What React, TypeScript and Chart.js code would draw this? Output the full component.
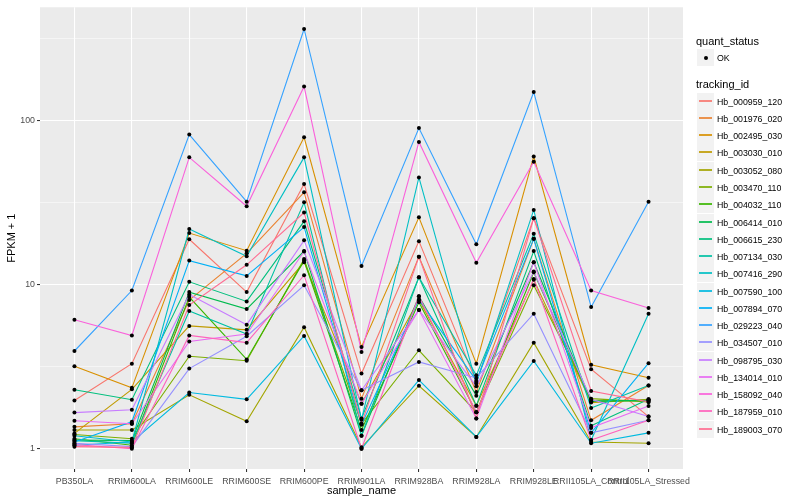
import React, { useEffect, useRef } from "react";
import { Chart, registerables } from "chart.js";

Chart.register(...registerables);

const categories = [
  "PB350LA", "RRIM600LA", "RRIM600LE", "RRIM600SE", "RRIM600PE", "RRIM901LA",
  "RRIM928BA", "RRIM928LA", "RRIM928LE", "RRII105LA_Control", "RRII105LA_Stressed",
];

const trackingIds = [
  "Hb_000959_120", "Hb_001976_020", "Hb_002495_030", "Hb_003030_010", "Hb_003052_080",
  "Hb_003470_110", "Hb_004032_110", "Hb_006414_010", "Hb_006615_230", "Hb_007134_030",
  "Hb_007416_290", "Hb_007590_100", "Hb_007894_070", "Hb_029223_040", "Hb_034507_010",
  "Hb_098795_030", "Hb_134014_010", "Hb_158092_040", "Hb_187959_010", "Hb_189003_070",
];

const seriesColors = [
  "#F8766D", "#EA8331", "#D89000", "#C09B00", "#A3A500", "#7CAE00", "#39B600", "#00BB4E",
  "#00BF7D", "#00C1A3", "#00BFC4", "#00BAE0", "#00B0F6", "#35A2FF", "#9590FF", "#C77CFF",
  "#E76BF3", "#FA62DB", "#FF62BC", "#FF6C91",
];

const hb000959_120 = [1.97, 3.3, 18.9, 9.0, 41, 2.87, 18.4, 2.55, 25.4, 3.05, 1.57];
const hb001976_020 = [1.36, 1.42, 8.05, 15.5, 36.5, 2.02, 14.8, 2.22, 19.0, 1.49, 2.43];
const hb002495_030 = [3.18, 2.35, 20.6, 16.1, 79, 4.17, 25.7, 3.3, 60.4, 3.25, 2.71];
const hb003030_010 = [1.24, 2.3, 5.6, 5.3, 13.7, 1.88, 8.1, 1.83, 10.7, 1.91, 2.0];
const hb003052_080 = [1.3, 1.3, 2.13, 1.47, 5.5, 1.02, 2.42, 1.18, 4.43, 1.1, 1.08];
const hb003470_110 = [1.22, 1.15, 3.66, 3.44, 14.3, 1.42, 3.98, 1.67, 9.9, 2.02, 1.93];
const hb004032_110 = [1.15, 1.05, 8.4, 3.5, 14.0, 1.3, 7.8, 1.67, 11.9, 1.95, 1.97];
const hb006414_010 = [1.13, 1.12, 9.0, 7.1, 16.0, 1.2, 8.5, 2.1, 13.7, 1.95, 1.97];
const hb006615_230 = [2.29, 1.99, 10.4, 7.9, 24.3, 1.53, 11.1, 1.83, 16.0, 1.38, 2.0];
const hb007134_030 = [1.12, 1.08, 6.9, 5.0, 31.7, 1.2, 11.1, 2.8, 20.4, 1.77, 2.43];
const hb007416_290 = [1.2, 1.1, 21.8, 14.9, 59.6, 1.5, 45, 2.5, 28.5, 1.13, 6.65];
const hb007590_100 = [1.05, 1.1, 2.2, 2.0, 4.87, 1.0, 2.62, 1.18, 3.43, 1.08, 1.25];
const hb007894_070 = [1.1, 1.46, 14.0, 11.3, 22.4, 1.4, 8.1, 2.6, 19.0, 1.25, 3.32];
const hb029223_040 = [3.94, 9.2, 82, 32, 361, 13, 90, 17.6, 149, 7.3, 32];
const hb034507_010 = [1.08, 1.03, 3.08, 4.85, 9.9, 2.27, 3.38, 2.7, 6.65, 1.25, 1.49];
const hb098795_030 = [1.66, 1.73, 8.7, 5.7, 18.6, 2.27, 7.0, 2.4, 12.0, 2.0, 1.57];
const hb134014_010 = [1.48, 1.42, 4.5, 5.0, 15.9, 1.88, 7.0, 1.53, 13.7, 1.34, 1.82];
const hb158092_040 = [6.1, 4.9, 59.6, 30, 161, 3.89, 74, 13.6, 56, 9.2, 7.2];
const hb187959_010 = [1.06, 1.0, 4.9, 4.43, 11.4, 1.0, 8.5, 1.67, 10.8, 1.13, 1.49];
const hb189003_070 = [1.03, 1.02, 7.5, 13.2, 27.5, 1.42, 14.8, 1.53, 25.4, 2.25, 1.93];

const seriesValues = [
  hb000959_120, hb001976_020, hb002495_030, hb003030_010, hb003052_080,
  hb003470_110, hb004032_110, hb006414_010, hb006615_230, hb007134_030,
  hb007416_290, hb007590_100, hb007894_070, hb029223_040, hb034507_010,
  hb098795_030, hb134014_010, hb158092_040, hb187959_010, hb189003_070,
];

const yMajorTicks = [1, 10, 100];
const yMinorTicks = [3.1623, 31.623, 316.23];

const FONT = "'Liberation Sans', Arial, Helvetica, sans-serif";

const panelBg = {
  id: "panelBg",
  beforeDraw(chart: any) {
    const { ctx, chartArea } = chart;
    ctx.save();
    ctx.fillStyle = "#EBEBEB";
    ctx.fillRect(chartArea.left, chartArea.top, chartArea.right - chartArea.left, chartArea.bottom - chartArea.top);
    ctx.restore();
  },
};

const pointsOnTop = {
  id: "pointsOnTop",
  afterDatasetsDraw(chart: any) {
    const { ctx } = chart;
    ctx.save();
    ctx.fillStyle = "#000000";
    chart.data.datasets.forEach((_: any, i: number) => {
      const meta = chart.getDatasetMeta(i);
      meta.data.forEach((el: any) => {
        ctx.beginPath();
        ctx.arc(el.x, el.y, 2, 0, Math.PI * 2);
        ctx.fill();
      });
    });
    ctx.restore();
  },
};

function App() {
  const canvasRef = useRef<HTMLCanvasElement | null>(null);

  useEffect(() => {
    if (!canvasRef.current) return;
    const n = seriesValues.length;
    const chart = new Chart(canvasRef.current, {
      type: "line",
      data: {
        datasets: seriesValues.map((vals, i) => ({
          label: trackingIds[i],
          data: vals.map((v, j) => ({ x: j, y: v })),
          borderColor: seriesColors[i],
          backgroundColor: seriesColors[i],
          borderWidth: 1.1,
          pointRadius: 0,
          tension: 0,
          fill: false,
          order: n - i,
        })),
      },
      options: {
        animation: false,
        responsive: false,
        devicePixelRatio: 1,
        layout: { padding: { top: 5, right: 117, left: 0, bottom: 0 } },
        plugins: { legend: { display: false }, tooltip: { enabled: false } },
        scales: {
          x: {
            type: "linear",
            min: -0.6,
            max: categories.length - 1 + 0.6,
            afterBuildTicks: (scale: any) => {
              scale.ticks = categories.map((_, i) => ({ value: i }));
            },
            afterFit: (scale: any) => {
              scale.height = 31;
            },
            border: { display: false },
            grid: {
              color: "#FFFFFF",
              lineWidth: 1.07,
              tickLength: 3,
              tickColor: "#333333",
              tickWidth: 1.07,
            },
            ticks: {
              autoSkip: false,
              maxRotation: 0,
              minRotation: 0,
              padding: 4,
              color: "#4D4D4D",
              font: { family: FONT, size: 8.8 },
              callback: (v: any) => categories[Math.round(Number(v))] ?? "",
            },
            title: {
              display: true,
              text: "sample_name",
              color: "#000000",
              font: { family: FONT, size: 11 },
              padding: { top: 0, bottom: 2 },
            },
          },
          y: {
            type: "logarithmic",
            min: 0.7527,
            max: 489.3,
            afterBuildTicks: (scale: any) => {
              scale.ticks = [...yMajorTicks, ...yMinorTicks]
                .sort((a, b) => a - b)
                .map((v) => ({ value: v }));
            },
            afterFit: (scale: any) => {
              scale.width = 40;
            },
            border: { display: false },
            grid: {
              color: "#FFFFFF",
              lineWidth: (c: any) => (yMajorTicks.includes(c.tick?.value) ? 1.07 : 0.53),
              tickLength: 3,
              tickColor: (c: any) => (yMajorTicks.includes(c.tick?.value) ? "#333333" : "rgba(0,0,0,0)"),
              tickWidth: 1.07,
            },
            ticks: {
              autoSkip: false,
              padding: 2,
              color: "#4D4D4D",
              font: { family: FONT, size: 8.8 },
              callback: (v: any) => (yMajorTicks.includes(Number(v)) ? String(v) : ""),
            },
            title: {
              display: true,
              text: "FPKM + 1",
              color: "#000000",
              font: { family: FONT, size: 11 },
              padding: { top: 5, bottom: 0 },
            },
          },
        },
      },
      plugins: [panelBg, pointsOnTop],
    } as any);
    return () => chart.destroy();
  }, []);

  const keySize = 17;
  const itemStart = 100.7;
  const itemStep = 17.26;

  return (
    <div style={{ position: "fixed", left: 0, top: 0, width: 800, height: 500, background: "#FFFFFF", fontFamily: FONT }}>
      <canvas ref={canvasRef} width={800} height={500} style={{ position: "absolute", left: 0, top: 0, width: 800, height: 500 }} />
      <div style={{ position: "absolute", left: 696, top: 34, fontSize: 11, lineHeight: "14px", color: "#000" }}>quant_status</div>
      <div style={{ position: "absolute", left: 697, top: 49, width: keySize, height: keySize, background: "#F2F2F2" }}>
        <div style={{ position: "absolute", left: 6.5, top: 6.5, width: 4, height: 4, borderRadius: "50%", background: "#000" }} />
      </div>
      <div style={{ position: "absolute", left: 717, top: 51.5, fontSize: 8.8, lineHeight: "12px", color: "#000" }}>OK</div>
      <div style={{ position: "absolute", left: 696, top: 77, fontSize: 11, lineHeight: "14px", color: "#000" }}>tracking_id</div>
      {trackingIds.map((id, i) => {
        const cy = Math.round(itemStart + i * itemStep);
        return (
          <React.Fragment key={id}>
            <div style={{ position: "absolute", left: 697, top: cy - 8, width: keySize, height: keySize, background: "#F2F2F2" }}>
              <div style={{ position: "absolute", left: 2, top: 7, width: keySize - 4, height: 2, background: seriesColors[i], opacity: 0.85 }} />
            </div>
            <div style={{ position: "absolute", left: 717, top: cy - 5.5, fontSize: 8.8, lineHeight: "12px", color: "#000", whiteSpace: "nowrap" }}>{id}</div>
          </React.Fragment>
        );
      })}
    </div>
  );
}

export default App;
